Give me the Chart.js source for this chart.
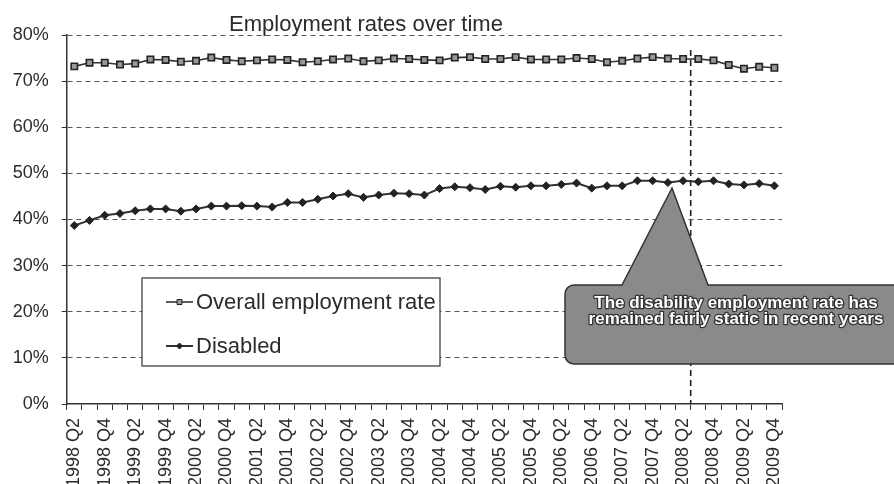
<!DOCTYPE html>
<html>
<head>
<meta charset="utf-8">
<title>Employment rates over time</title>
<script src="https://cdn.jsdelivr.net/npm/chart.js@4.4.1/dist/chart.umd.min.js"></script>
<style>
  html, body { margin: 0; padding: 0; background: #fff; }
  #wrap { width: 894px; height: 484px; position: relative; }
</style>
</head>
<body>
<div id="wrap"><canvas id="empChart" width="894" height="484"></canvas></div>
<script>
// quarters, 1998 Q2 - 2009 Q4
var quarters = [
  "1998 Q2", "1998 Q3", "1998 Q4",
  "1999 Q1", "1999 Q2", "1999 Q3", "1999 Q4",
  "2000 Q1", "2000 Q2", "2000 Q3", "2000 Q4",
  "2001 Q1", "2001 Q2", "2001 Q3", "2001 Q4",
  "2002 Q1", "2002 Q2", "2002 Q3", "2002 Q4",
  "2003 Q1", "2003 Q2", "2003 Q3", "2003 Q4",
  "2004 Q1", "2004 Q2", "2004 Q3", "2004 Q4",
  "2005 Q1", "2005 Q2", "2005 Q3", "2005 Q4",
  "2006 Q1", "2006 Q2", "2006 Q3", "2006 Q4",
  "2007 Q1", "2007 Q2", "2007 Q3", "2007 Q4",
  "2008 Q1", "2008 Q2", "2008 Q3", "2008 Q4",
  "2009 Q1", "2009 Q2", "2009 Q3", "2009 Q4"
];

// employment rate, %
var overallRate = [
  73.2, 74.0, 74.0, 73.6, 73.8, 74.7, 74.6, 74.2, 74.4, 75.1,
  74.6, 74.3, 74.5, 74.7, 74.6, 74.1, 74.3, 74.7, 74.9, 74.3,
  74.5, 74.9, 74.8, 74.6, 74.5, 75.1, 75.2, 74.8, 74.8, 75.2,
  74.7, 74.7, 74.7, 75.0, 74.8, 74.1, 74.4, 74.9, 75.2, 74.9,
  74.8, 74.8, 74.5, 73.5, 72.7, 73.1, 72.9
];
var disabledRate = [
  38.7, 39.8, 40.9, 41.3, 41.9, 42.3, 42.3, 41.8, 42.3, 42.9,
  42.9, 43.0, 42.9, 42.7, 43.7, 43.7, 44.4, 45.1, 45.6, 44.8,
  45.3, 45.7, 45.6, 45.3, 46.7, 47.1, 46.9, 46.5, 47.2, 47.0,
  47.3, 47.3, 47.6, 47.9, 46.8, 47.3, 47.3, 48.4, 48.4, 48.0,
  48.4, 48.2, 48.4, 47.7, 47.5, 47.8, 47.3
];
var yTicks = [0, 10, 20, 30, 40, 50, 60, 70, 80];

var chartTitle = "Employment rates over time";
var calloutLines = ["The disability employment rate has", "remained fairly static in recent years"];
var markerAfter = "2008 Q2";

var FONT = '"Liberation Sans", Arial, sans-serif';
var INK = "#2b2b2b";

// title, reference line, legend box and callout
var overlay = {
  id: "overlay",
  afterDraw: function(chart) {
    var ctx = chart.ctx, area = chart.chartArea, x = chart.scales.x;

    // title
    ctx.save();
    ctx.font = "22px " + FONT;
    ctx.fillStyle = INK;
    ctx.textAlign = "center";
    ctx.textBaseline = "alphabetic";
    ctx.fillText(chartTitle, 366, 31);
    ctx.restore();

    // vertical dashed line after 2008 Q2
    var i = quarters.indexOf(markerAfter);
    var vx = (x.getPixelForValue(i) + x.getPixelForValue(i + 1)) / 2;
    ctx.save();
    ctx.strokeStyle = "#222";
    ctx.lineWidth = 1.6;
    ctx.setLineDash([6, 4]);
    ctx.beginPath();
    ctx.moveTo(vx, 50);
    ctx.lineTo(vx, area.bottom);
    ctx.stroke();
    ctx.restore();

    // legend box
    var lx = 142, ly = 278, lw = 298, lh = 88;
    ctx.save();
    ctx.fillStyle = "#fff";
    ctx.fillRect(lx, ly, lw, lh);
    ctx.strokeStyle = "#333";
    ctx.lineWidth = 1.2;
    ctx.strokeRect(lx, ly, lw, lh);
    var rows = [302, 346];
    chart.data.datasets.forEach(function(ds, k) {
      var cy = rows[k];
      ctx.strokeStyle = ds.borderColor;
      ctx.lineWidth = ds.borderWidth;
      ctx.beginPath();
      ctx.moveTo(166, cy);
      ctx.lineTo(193, cy);
      ctx.stroke();
      ctx.fillStyle = ds.pointBackgroundColor;
      ctx.strokeStyle = ds.pointBorderColor;
      ctx.lineWidth = 1;
      Chart.helpers.drawPoint(ctx, { pointStyle: ds.pointStyle, radius: ds.pointRadius - 1, borderWidth: 1, rotation: 0 }, 179.5, cy);
      ctx.fillStyle = INK;
      ctx.font = "22px " + FONT;
      ctx.textAlign = "left";
      ctx.textBaseline = "middle";
      ctx.fillText(ds.label, 196, cy + 1);
    });
    ctx.restore();

    // callout with pointer
    var bx = 565, by = 285, bw = 340, bh = 79, r = 9;
    var tipX = 672, tipY = 188, baseL = 622, baseR = 708;
    ctx.save();
    ctx.beginPath();
    ctx.moveTo(bx + r, by);
    ctx.lineTo(baseL, by);
    ctx.lineTo(tipX, tipY);
    ctx.lineTo(baseR, by);
    ctx.lineTo(bx + bw - r, by);
    ctx.arcTo(bx + bw, by, bx + bw, by + r, r);
    ctx.lineTo(bx + bw, by + bh - r);
    ctx.arcTo(bx + bw, by + bh, bx + bw - r, by + bh, r);
    ctx.lineTo(bx + r, by + bh);
    ctx.arcTo(bx, by + bh, bx, by + bh - r, r);
    ctx.lineTo(bx, by + r);
    ctx.arcTo(bx, by, bx + r, by, r);
    ctx.closePath();
    ctx.fillStyle = "#8a8a8a";
    ctx.fill();
    ctx.strokeStyle = "#333";
    ctx.lineWidth = 1.5;
    ctx.stroke();

    ctx.font = "bold 17px " + FONT;
    ctx.textAlign = "center";
    ctx.textBaseline = "middle";
    ctx.lineJoin = "round";
    calloutLines.forEach(function(t, k) {
      var ty = 303 + k * 16.5;
      ctx.strokeStyle = "#333";
      ctx.lineWidth = 2.5;
      ctx.strokeText(t, 736, ty);
      ctx.fillStyle = "#fff";
      ctx.fillText(t, 736, ty);
    });
    ctx.restore();
  }
};

new Chart(document.getElementById("empChart"), {
  type: "line",
  data: {
    labels: quarters,
    datasets: [
      {
        label: "Overall employment rate", data: overallRate,
        borderColor: "#333", borderWidth: 1.6,
        pointStyle: "rect", pointRadius: 4.5, pointHoverRadius: 4.5,
        pointBackgroundColor: "#999", pointBorderColor: "#222", pointBorderWidth: 1.6,
        tension: 0
      },
      {
        label: "Disabled", data: disabledRate,
        borderColor: "#333", borderWidth: 2,
        pointStyle: "rectRot", pointRadius: 4, pointHoverRadius: 4,
        pointBackgroundColor: "#222", pointBorderColor: "#222", pointBorderWidth: 1,
        tension: 0
      }
    ]
  },
  options: {
    responsive: false,
    animation: false,
    events: [],
    layout: { padding: { left: 0, top: 35, right: 112, bottom: 0 } },
    plugins: { legend: { display: false }, title: { display: false }, tooltip: { enabled: false } },
    scales: {
      x: {
        type: "category",
        offset: true,
        grid: { offset: true, drawOnChartArea: false, drawTicks: true, tickLength: 6, tickColor: "#333", tickWidth: 1 },
        border: { color: "#333", width: 1.5 },
        ticks: {
          autoSkip: false, maxRotation: 90, minRotation: 90, padding: 8,
          color: INK, font: { family: FONT, size: 18 },
          callback: function(v, i) { return i % 2 === 0 ? quarters[i] : ""; }
        },
        afterFit: function(s) { s.height = 80; }
      },
      y: {
        min: 0, max: 80,
        afterBuildTicks: function(s) { s.ticks = yTicks.map(function(v) { return { value: v }; }); },
        grid: {
          color: function(c) { return c.tick && c.tick.value === 0 ? "rgba(0,0,0,0)" : "#555"; },
          lineWidth: 1, tickLength: 5, tickColor: "#333", tickWidth: 1
        },
        border: { color: "#333", width: 1.5, dash: [5, 4] },
        ticks: {
          padding: 13, color: INK, font: { family: FONT, size: 18 },
          callback: function(v) { return v + "%"; }
        },
        afterFit: function(s) { s.width = 66.7; }
      }
    }
  },
  plugins: [overlay]
});
</script>
</body>
</html>
